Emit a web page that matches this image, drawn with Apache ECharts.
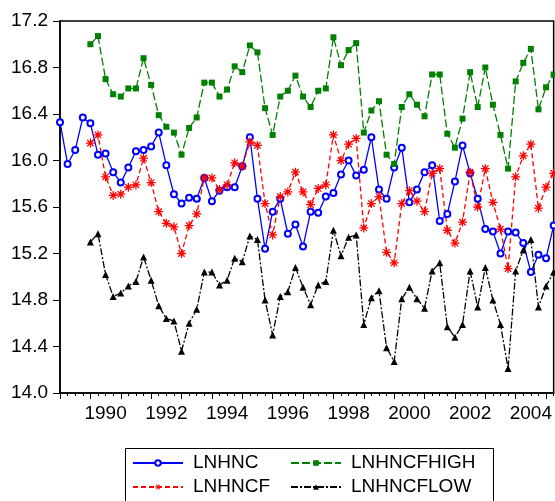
<!DOCTYPE html>
<html>
<head>
<meta charset="utf-8">
<script src="https://cdn.jsdelivr.net/npm/echarts@6/dist/echarts.min.js"></script>
<style>
  html, body { margin: 0; padding: 0; background: #ffffff; }
  #chart { width: 555px; height: 501px; }
</style>
</head>
<body>
<div id="chart"></div>
<script>
// Quarterly observations, 1989Q1 .. 2005Q2
const startYear = 1989;
const quarterCount = 66;
const quarters = [];
for (let i = 0; i < quarterCount; i++) {
  quarters.push((startYear + Math.floor(i / 4)) + 'Q' + (i % 4 + 1));
}

// Year labels shown under the axis (centred on each labelled year)
const yearLabels = ['1990', '1992', '1994', '1996', '1998', '2000', '2002', '2004'];

// Y axis range
const yMin = 14.0;
const yMax = 17.2;
const yStep = 0.4;

const LNHNC = [
  16.33, 15.97, 16.09, 16.37, 16.32, 16.05, 16.06, 15.90, 15.81, 15.94,
  16.08, 16.09, 16.12, 16.24, 15.96, 15.71, 15.63, 15.68, 15.67, 15.85,
  15.65, 15.74, 15.77, 15.77, 15.95, 16.20, 15.67, 15.24, 15.56, 15.67,
  15.37, 15.45, 15.26, 15.56, 15.55, 15.69, 15.72, 15.88, 16.00, 15.87,
  15.92, 16.20, 15.75, 15.67, 15.94, 16.11, 15.64, 15.75, 15.90, 15.96,
  15.48, 15.54, 15.82, 16.13, 15.89, 15.67, 15.41, 15.39, 15.20, 15.39,
  15.38, 15.29, 15.04, 15.19, 15.16, 15.44
];

const LNHNCF = [
  null, null, null, null,
  16.15, 16.22, 15.86, 15.70, 15.71, 15.77, 15.79, 16.02, 15.81, 15.56,
  15.46, 15.43, 15.20, 15.44, 15.54, 15.85, 15.85, 15.75, 15.79, 15.98,
  15.95, 16.16, 16.13, 15.63, 15.36, 15.69, 15.73, 15.90, 15.73, 15.62,
  15.76, 15.79, 16.22, 16.00, 16.14, 16.19, 15.42, 15.63, 15.69, 15.21,
  15.12, 15.63, 15.74, 15.65, 15.56, 15.89, 15.93, 15.40, 15.29, 15.47,
  15.90, 15.60, 15.93, 15.64, 15.41, 15.07, 15.86, 16.04, 16.14, 15.59,
  15.77, 15.89
];

const LNHNCFHIGH = [
  null, null, null, null,
  17.00, 17.07, 16.70, 16.57, 16.55, 16.62, 16.62, 16.88, 16.65, 16.39,
  16.29, 16.24, 16.05, 16.28, 16.37, 16.67, 16.67, 16.55, 16.61, 16.81,
  16.76, 16.99, 16.93, 16.45, 16.22, 16.55, 16.60, 16.73, 16.55, 16.46,
  16.60, 16.62, 17.06, 16.82, 16.95, 17.01, 16.24, 16.43, 16.51, 16.05,
  15.97, 16.46, 16.57, 16.48, 16.38, 16.74, 16.74, 16.23, 16.11, 16.36,
  16.76, 16.46, 16.80, 16.48, 16.22, 15.93, 16.68, 16.84, 16.96, 16.44,
  16.63, 16.74
];

const LNHNCFLOW = [
  null, null, null, null,
  15.30, 15.37, 15.02, 14.83, 14.86, 14.92, 14.96, 15.17, 14.97, 14.75,
  14.64, 14.62, 14.36, 14.60, 14.72, 15.04, 15.04, 14.93, 14.97, 15.16,
  15.13, 15.35, 15.32, 14.80, 14.50, 14.83, 14.87, 15.08, 14.91, 14.76,
  14.93, 14.96, 15.40, 15.18, 15.34, 15.36, 14.59, 14.82, 14.88, 14.39,
  14.27, 14.81, 14.91, 14.81, 14.73, 15.05, 15.12, 14.57, 14.48, 14.59,
  15.05, 14.74, 15.08, 14.80, 14.59, 14.21, 15.05, 15.23, 15.32, 14.74,
  14.92, 15.04
];

const FONT = "'Liberation Sans', Arial, sans-serif";

// Eight-armed asterisk marker
const asteriskPath = 'path://' +
  'M0 4.3L10 4.3L10 5.7L0 5.7Z' +
  'M5.7 0L5.7 10L4.3 10L4.3 0Z' +
  'M1.96 0.97L9.03 8.04L8.04 9.03L0.97 1.96Z' +
  'M9.03 1.96L1.96 9.03L0.97 8.04L8.04 0.97Z';

function isLabelledQuarter(index, value) {
  return value.slice(4) === 'Q3' && yearLabels.indexOf(value.slice(0, 4)) >= 0;
}

const chart = echarts.init(document.getElementById('chart'), null, { renderer: 'canvas' });

const legendText = {
  fontFamily: FONT, fontSize: 19, color: '#000', lineHeight: 20, padding: [0, 0, 0, 5]
};

chart.setOption({
  animation: false,
  backgroundColor: '#ffffff',
  grid: {
    left: 60, right: -1, top: 21, bottom: 108,
    show: true, borderColor: '#000', borderWidth: 1.5, backgroundColor: 'transparent'
  },
  xAxis: [
    {
      type: 'category', data: quarters, position: 'bottom', boundaryGap: false,
      axisLine: { show: true, lineStyle: { color: '#000', width: 1.5 } },
      axisTick: { show: true, interval: 0, length: 3, inside: false, lineStyle: { color: '#000', width: 1 } },
      axisLabel: {
        show: true, interval: isLabelledQuarter, margin: 11,
        formatter: v => v.slice(0, 4),
        fontFamily: FONT, fontSize: 19, color: '#000'
      },
      splitLine: { show: false }
    },
    {
      type: 'category', data: quarters, position: 'bottom', boundaryGap: false,
      axisLine: { show: false },
      axisTick: {
        show: true, length: 6, inside: false,
        interval: (index, value) => value.slice(4) === 'Q1',
        lineStyle: { color: '#000', width: 1 }
      },
      axisLabel: { show: false },
      splitLine: { show: false }
    }
  ],
  yAxis: {
    type: 'value', min: yMin, max: yMax, interval: yStep,
    axisLine: { show: true, lineStyle: { color: '#000', width: 1.5 } },
    axisTick: { show: true, length: 7, inside: false, lineStyle: { color: '#000', width: 1 } },
    axisLabel: {
      margin: 12, formatter: v => v.toFixed(1),
      fontFamily: FONT, fontSize: 19, color: '#000'
    },
    splitLine: { show: false }
  },
  legend: [
    {
      data: ['LNHNC', 'LNHNCF'], orient: 'vertical', left: 132, top: 453,
      padding: 0, itemGap: 4, itemWidth: 50, itemHeight: 7,
      textStyle: legendText
    },
    {
      data: ['LNHNCFHIGH', 'LNHNCFLOW'], orient: 'vertical', left: 290, top: 453,
      padding: 0, itemGap: 4, itemWidth: 50, itemHeight: 7,
      textStyle: legendText
    }
  ],
  graphic: [
    {
      type: 'rect', left: 123, top: 446, silent: true,
      shape: { width: 368, height: 70 },
      style: { fill: 'none', stroke: '#000', lineWidth: 1 }
    }
  ],
  series: [
    {
      name: 'LNHNC', type: 'line', data: LNHNC,
      symbol: 'emptyCircle', symbolSize: 6, showAllSymbol: true,
      itemStyle: { color: '#0000ff', borderWidth: 1.2 },
      lineStyle: { color: '#0000ff', width: 1.3, type: 'solid' }
    },
    {
      name: 'LNHNCF', type: 'line', data: LNHNCF,
      symbol: asteriskPath, symbolSize: 9, showAllSymbol: true,
      itemStyle: { color: '#ff0000' },
      lineStyle: { color: '#ff0000', width: 1.3, type: [5, 3] }
    },
    {
      name: 'LNHNCFHIGH', type: 'line', data: LNHNCFHIGH,
      symbol: 'rect', symbolSize: 6, showAllSymbol: true,
      itemStyle: { color: '#008000' },
      lineStyle: { color: '#008000', width: 1.3, type: [8, 3] }
    },
    {
      name: 'LNHNCFLOW', type: 'line', data: LNHNCFLOW,
      symbol: 'triangle', symbolSize: 7, showAllSymbol: true,
      itemStyle: { color: '#000000' },
      lineStyle: { color: '#000000', width: 1.3, type: [7, 2, 2, 2] }
    }
  ]
});
</script>
</body>
</html>
